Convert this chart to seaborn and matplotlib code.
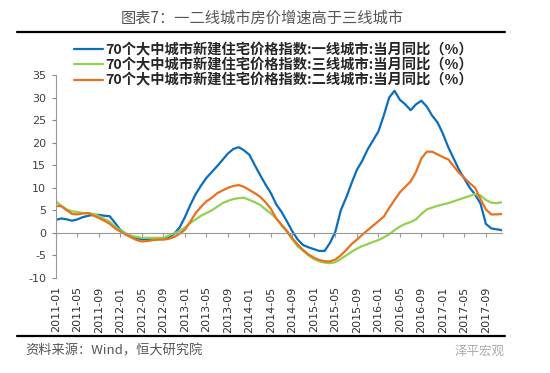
import numpy as np
import pandas as pd
import seaborn as sns
import matplotlib.pyplot as plt
from matplotlib.lines import Line2D

# monthly YoY (%) 2011-01 .. 2017-12
months = pd.date_range("2011-01", periods=84, freq="MS").strftime("%Y-%m").tolist()

tier1 = [2.9, 3.2, 3.0, 2.7, 3.0, 3.5, 3.8, 4.0, 4.0, 3.8, 3.7, 2.2,
         0.6, -0.2, -0.8, -1.2, -1.4, -1.4, -1.4, -1.3, -1.3, -1.0, -0.2, 1.2,
         3.5, 6.2, 8.6, 10.5, 12.2, 13.5, 14.8, 16.2, 17.6, 18.6, 19.0, 18.3,
         17.3, 15.0, 12.8, 10.7, 8.8, 6.3, 4.6, 2.5, 0.3, -1.5, -2.7, -3.2,
         -3.6, -4.0, -4.0, -2.2, 0.3, 5.0, 7.8, 11.0, 14.0, 16.0, 18.5, 20.5,
         22.5, 26.0, 30.0, 31.5, 29.5, 28.5, 27.2, 28.5, 29.3, 28.0, 26.0, 24.5,
         22.0, 19.0, 16.5, 14.0, 12.0, 10.0, 8.5, 6.5, 2.0, 1.0, 0.8, 0.6]

tier3 = [7.0, 6.0, 5.2, 4.8, 4.6, 4.4, 4.4, 4.2, 3.7, 3.1, 2.5, 1.4,
         0.5, -0.1, -0.6, -0.9, -1.1, -1.1, -1.1, -1.1, -1.1, -0.6, -0.1, 0.4,
         1.2, 2.2, 3.0, 3.8, 4.4, 5.0, 5.8, 6.6, 7.1, 7.5, 7.7, 7.8,
         7.3, 6.8, 6.2, 5.2, 4.3, 3.2, 1.6, 0.2, -1.5, -3.0, -4.0, -5.0,
         -5.8, -6.3, -6.6, -6.7, -6.5, -5.8, -5.0, -4.2, -3.5, -2.9, -2.5, -2.0,
         -1.6, -1.0, -0.3, 0.6, 1.4, 2.0, 2.4, 3.0, 4.2, 5.2, 5.6, 6.0,
         6.3, 6.6, 7.0, 7.4, 7.8, 8.2, 8.6, 8.3, 7.3, 6.7, 6.6, 6.8]

tier2 = [6.0, 5.9, 5.0, 4.2, 4.1, 4.3, 4.4, 3.8, 3.3, 2.7, 2.0, 1.0,
         0.3, -0.4, -1.0, -1.6, -1.9, -1.8, -1.6, -1.5, -1.5, -1.3, -0.9, -0.2,
         0.7, 2.5, 4.4, 5.8, 7.0, 7.8, 8.8, 9.4, 10.0, 10.4, 10.6, 10.2,
         9.5, 8.8, 8.0, 6.8, 5.3, 3.2, 1.8, 0.4, -1.2, -2.6, -3.8, -4.8,
         -5.5, -6.0, -6.3, -6.3, -5.9, -5.0, -3.8, -2.5, -1.5, -0.4, 0.6, 1.6,
         2.6, 3.6, 5.5, 7.3, 9.0, 10.2, 11.4, 13.5, 16.5, 18.0, 18.0, 17.4,
         16.8, 16.3, 14.8, 13.3, 12.2, 11.0, 10.0, 7.5, 5.2, 4.1, 4.1, 4.2]

labels = ["70个大中城市新建住宅价格指数:一线城市:当月同比（%）",
          "70个大中城市新建住宅价格指数:三线城市:当月同比（%）",
          "70个大中城市新建住宅价格指数:二线城市:当月同比（%）"]
colors = ["#0a6ebd", "#92d050", "#e8711e"]

sns.set_style("white")
plt.rcParams["font.family"] = ["Noto Sans CJK SC", "DejaVu Sans"]
plt.rcParams["axes.unicode_minus"] = False

fig = plt.figure(figsize=(5.5, 3.73), dpi=100)
ax = fig.add_axes([0.1018, 0.2547, 0.8109, 0.5442])

x = np.arange(len(months))
for s, lab, c in zip([tier1, tier3, tier2], labels, colors):
    sns.lineplot(x=x, y=s, ax=ax, color=c, linewidth=1.6, label=lab)

ax.set_xlim(0, len(months) - 1)
ax.set_ylim(-10, 35)
ax.set_yticks(range(-10, 40, 5))
ax.tick_params(axis="y", direction="out", length=3, width=0.8, color="#888888",
               labelsize=8, labelcolor="#404040", pad=4, left=True)
for t in ax.get_yticklabels():
    t.set_family("DejaVu Sans")

# zero axis with tick marks, labels at the bottom
ax.spines["bottom"].set_position(("data", 0))
ax.spines["bottom"].set_color("#999999")
ax.spines["left"].set_color("#999999")
ax.spines["top"].set_visible(False)
ax.spines["right"].set_visible(False)
tick_pos = x[::4]
ax.set_xticks(tick_pos)
ax.tick_params(axis="x", direction="out", length=3, width=0.8, color="#999999",
               labelbottom=False, bottom=True)
sec = ax.secondary_xaxis(0)
sec.set_xticks(tick_pos, labels=[months[i] for i in tick_pos])
sec.tick_params(length=0, labelsize=8, labelcolor="#303030", pad=6, rotation=90)
sec.spines["bottom"].set_visible(False)
for t in sec.get_xticklabels():
    t.set_family("DejaVu Sans")
ax.set_xlabel("")

handles, labs = ax.get_legend_handles_labels()
ax.get_legend().remove()
fig.legend(handles, labs, loc="upper left", bbox_to_anchor=(0.125, 0.9),
           frameon=False, handlelength=2.0, handletextpad=0.15,
           labelspacing=0.08, borderaxespad=0,
           prop={"weight": "bold", "size": 10.3})

fig.text(0.477, 0.952, "图表7：一二线城市房价增速高于三线城市", ha="center", va="center",
         fontsize=11, color="#555555")
fig.add_artist(Line2D([17 / 550, 505 / 550], [1 - 32 / 373] * 2, color="black", lw=1.6))
fig.add_artist(Line2D([17 / 550, 505 / 550], [1 - 336 / 373] * 2, color="black", lw=1.6))
fig.text(25 / 550, 1 - 351 / 373, "资料来源：Wind，恒大研究院", ha="left", va="center",
         fontsize=9.5, color="#555555")
fig.text(505 / 550, 1 - 351 / 373, "泽平宏观", ha="right", va="center",
         fontsize=9, color="#aaaaaa")

fig.savefig("out.png", dpi=100)
